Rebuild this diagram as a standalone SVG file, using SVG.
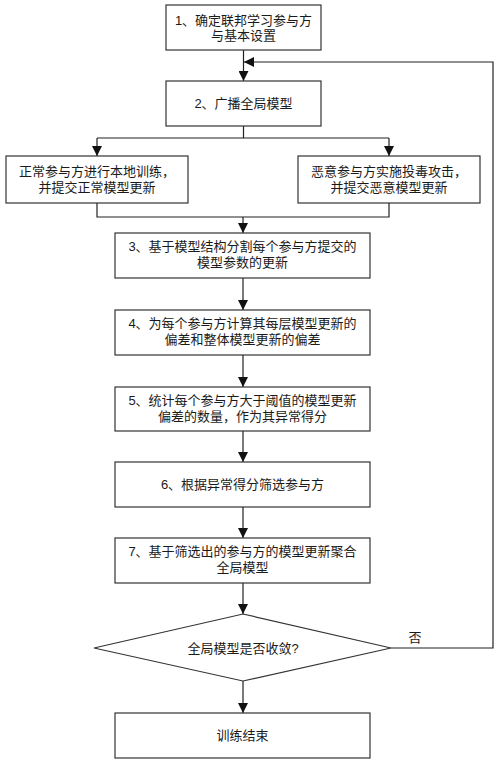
<svg xmlns="http://www.w3.org/2000/svg" width="500" height="764" viewBox="0 0 500 764">
<defs>
<style>
.b{fill:#fff;stroke:#333;stroke-width:1.2}
.c{fill:none;stroke:#222;stroke-width:1.2}
text{font-family:"Liberation Sans","Noto Sans CJK SC",sans-serif;font-size:13px;fill:#1a1a1a;text-anchor:middle}
</style>
<marker id="a" viewBox="0 0 10 10" refX="10" refY="5" markerWidth="10" markerHeight="10" markerUnits="userSpaceOnUse" orient="auto">
<path d="M0,0 L10,5 L0,10 Z" fill="#111"/>
</marker>
</defs>
<rect width="500" height="764" fill="#fff"/>
<g id="connectors">
<path class="c" d="M243.5,50 V81" marker-end="url(#a)"/>
<path class="c" d="M243.5,126 V138 M97,138 H389"/>
<path class="c" d="M97,138 V156" marker-end="url(#a)"/>
<path class="c" d="M389,138 V156" marker-end="url(#a)"/>
<path class="c" d="M97,203 V217 H389 V203"/>
<path class="c" d="M243,217 V233" marker-end="url(#a)"/>
<path class="c" d="M243,278 V310" marker-end="url(#a)"/>
<path class="c" d="M243,355 V387" marker-end="url(#a)"/>
<path class="c" d="M243,431 V462" marker-end="url(#a)"/>
<path class="c" d="M243,507 V538" marker-end="url(#a)"/>
<path class="c" d="M243,583 V614" marker-end="url(#a)"/>
<path class="c" d="M243,681 V713" marker-end="url(#a)"/>
<path class="c" d="M391,648 H493 V62 H244" marker-end="url(#a)"/>
<text x="415" y="642">否</text>
</g>
<g id="n1"><rect class="b" x="166" y="5" width="155" height="45"/><text x="243.5" y="24.5">1、确定联邦学习参与方</text><text x="243.5" y="40">与基本设置</text></g>
<g id="n2"><rect class="b" x="166" y="81" width="155" height="45"/><text x="243.5" y="108">2、广播全局模型</text></g>
<g id="n2a"><rect class="b" x="6" y="156" width="182" height="47"/><text x="97" y="176">正常参与方进行本地训练，</text><text x="97" y="192">并提交正常模型更新</text></g>
<g id="n2b"><rect class="b" x="298" y="156" width="182" height="47"/><text x="389" y="176">恶意参与方实施投毒攻击，</text><text x="389" y="192">并提交恶意模型更新</text></g>
<g id="n3"><rect class="b" x="115" y="233" width="255" height="45"/><text x="242.5" y="251">3、基于模型结构分割每个参与方提交的</text><text x="242.5" y="267">模型参数的更新</text></g>
<g id="n4"><rect class="b" x="115" y="310" width="255" height="45"/><text x="242.5" y="328">4、为每个参与方计算其每层模型更新的</text><text x="242.5" y="344">偏差和整体模型更新的偏差</text></g>
<g id="n5"><rect class="b" x="115" y="387" width="255" height="44"/><text x="242.5" y="405">5、统计每个参与方大于阈值的模型更新</text><text x="242.5" y="421">偏差的数量，作为其异常得分</text></g>
<g id="n6"><rect class="b" x="115" y="462" width="255" height="45"/><text x="242.5" y="489">6、根据异常得分筛选参与方</text></g>
<g id="n7"><rect class="b" x="115" y="538" width="255" height="45"/><text x="242.5" y="556">7、基于筛选出的参与方的模型更新聚合</text><text x="242.5" y="572">全局模型</text></g>
<g id="d"><polygon class="b" points="243,614 391,648 243,681 94,648"/><text x="243" y="653">全局模型是否收敛?</text></g>
<g id="end"><rect class="b" x="115" y="713" width="255" height="45"/><text x="242.5" y="740">训练结束</text></g>
</svg>
